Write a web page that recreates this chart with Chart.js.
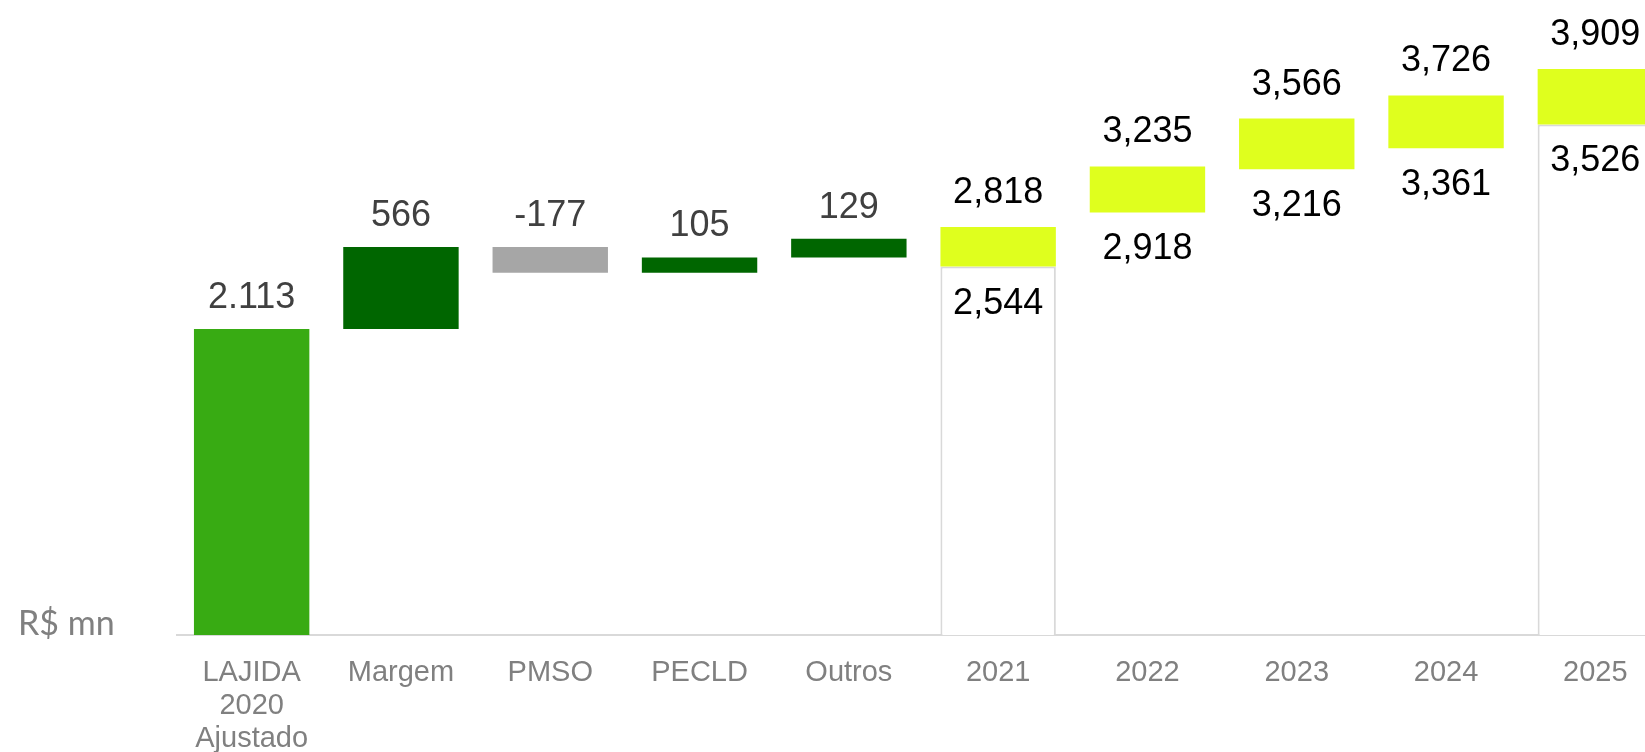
<!DOCTYPE html>
<html>
<head>
<meta charset="utf-8">
<script src="https://cdn.jsdelivr.net/npm/chart.js@4.4.1/dist/chart.umd.min.js"></script>
<style>
  html, body { margin: 0; padding: 0; background: #fff; overflow: hidden; }
  #wrap { width: 1680px; height: 752px; }
</style>
</head>
<body>
<div id="wrap"><canvas id="waterfallChart" width="1680" height="752"></canvas></div>
<script>
// categories on the x axis
const categories = [['LAJIDA', '2020', 'Ajustado'], 'Margem', 'PMSO', 'PECLD', 'Outros', '2021', '2022', '2023', '2024', '2025'];

// bridge from 2020 to 2021 (R$ mn)
const bridgeValues = [2113, 566, -177, 105, 129];

// yearly ranges (low / high)
const yearLow = [2544, 2918, 3216, 3361, 3526];
const yearHigh = [2818, 3235, 3566, 3726, 3909];
const outlinedYears = ['2021', '2025'];

const yMax = 4385;

const fmt = (v, sep) => String(v).replace(/\B(?=(\d{3})+(?!\d))/g, sep);

// build floating bars
let running = 0;
const bridgeData = categories.map(() => null);
const bridgeColors = [];
bridgeValues.forEach((v, i) => {
    const start = i === 0 ? 0 : running;
    running = start + v;
    bridgeData[i] = [start, running];
    bridgeColors.push(i === 0 ? '#38ab13' : (v < 0 ? '#a6a6a6' : '#006600'));
});

const nBridge = bridgeValues.length;
const yearData = categories.map((c, i) => i >= nBridge ? [yearLow[i - nBridge], yearHigh[i - nBridge]] : null);
const baseData = categories.map((c, i) => (i >= nBridge && outlinedYears.includes(c)) ? [0, yearLow[i - nBridge]] : null);

const labelPlugin = {
    id: 'barLabels',
    afterDatasetsDraw(chart) {
        const ctx = chart.ctx;
        ctx.save();
        ctx.textAlign = 'center';
        ctx.textBaseline = 'middle';
        ctx.font = '36px "Liberation Sans", Arial, sans-serif';

        ctx.fillStyle = '#404040';
        chart.getDatasetMeta(1).data.forEach((bar, i) => {
            if (!bridgeData[i]) return;
            const top = Math.min(bar.y, bar.base);
            ctx.fillText(fmt(bridgeValues[i], '.'), bar.x, top - 31);
        });

        ctx.fillStyle = '#000000';
        chart.getDatasetMeta(2).data.forEach((bar, i) => {
            if (!yearData[i]) return;
            const top = Math.min(bar.y, bar.base);
            const bottom = Math.max(bar.y, bar.base);
            ctx.fillText(fmt(yearData[i][1], ','), bar.x, top - 34);
            ctx.fillText(fmt(yearData[i][0], ','), bar.x, bottom + 37);
        });

        ctx.font = '34px Lato, sans-serif';
        ctx.fillStyle = '#808080';
        ctx.textAlign = 'left';
        ctx.textBaseline = 'alphabetic';
        ctx.fillText('R$ mn', 18, chart.chartArea.bottom);
        ctx.restore();
    }
};

const ctx = document.getElementById('waterfallChart');

new Chart(ctx, {
    type: 'bar',
    data: {
        labels: categories,
        datasets: [
            {
                label: 'base',
                data: baseData,
                backgroundColor: '#ffffff',
                borderColor: '#d9d9d9',
                borderWidth: 2,
                order: 3
            },
            {
                label: 'bridge',
                data: bridgeData,
                backgroundColor: bridgeColors,
                borderWidth: 0,
                order: 2
            },
            {
                label: 'years',
                data: yearData,
                backgroundColor: '#dfff1e',
                borderWidth: 0,
                order: 1
            }
        ]
    },
    options: {
        responsive: false,
        animation: false,
        datasets: {
            bar: { grouped: false, barPercentage: 0.773, categoryPercentage: 1 }
        },
        layout: { padding: { left: 177, right: 10, top: 0, bottom: 0 } },
        plugins: {
            legend: { display: false },
            tooltip: { enabled: false }
        },
        scales: {
            x: {
                grid: { display: false, drawTicks: false },
                border: { display: true, color: '#d9d9d9', width: 2 },
                ticks: {
                    color: '#808080',
                    font: { family: '"Liberation Sans", Arial, sans-serif', size: 29, lineHeight: 1.15 },
                    padding: 21,
                    autoSkip: false,
                    maxRotation: 0
                },
                afterFit: (scale) => { scale.height = 117; }
            },
            y: { display: false, min: 0, max: yMax }
        }
    },
    plugins: [labelPlugin]
});
</script>
</body>
</html>
